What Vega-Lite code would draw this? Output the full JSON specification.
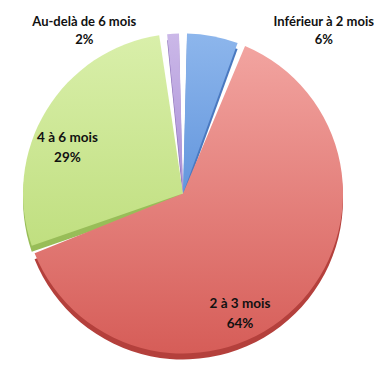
{
  "$schema": "https://vega.github.io/schema/vega-lite/v6.json",
  "width": 374,
  "height": 371,
  "autosize": {"type": "fit", "contains": "padding"},
  "padding": {"top": 32, "left": 0, "right": 14, "bottom": 3},
  "background": "white",
  "config": {"view": {"stroke": null}},
  "data": {
    "values": [
      {"cat": "Inférieur à 2 mois", "pct": 6, "ord": 1, "label": "Inférieur à 2 mois\n6%"},
      {"cat": "2 à 3 mois", "pct": 64, "ord": 2, "label": "2 à 3 mois\n64%"},
      {"cat": "4 à 6 mois", "pct": 29, "ord": 3, "label": "4 à 6 mois\n29%"},
      {"cat": "Au-delà de 6 mois", "pct": 2, "ord": 4, "label": "Au-delà de 6 mois\n2%"}
    ]
  },
  "encoding": {
    "theta": {"field": "pct", "type": "quantitative", "stack": true},
    "order": {"field": "ord", "type": "quantitative"}
  },
  "layer": [
    {
      "mark": {"type": "arc", "outerRadius": 160, "padAngle": 0.05, "yOffset": 6},
      "encoding": {
        "color": {
          "field": "cat", "type": "nominal", "legend": null,
          "scale": {
            "domain": ["Inférieur à 2 mois", "2 à 3 mois", "4 à 6 mois", "Au-delà de 6 mois"],
            "range": ["#4a79c0", "#b4403c", "#98bd58", "#8a6fb8"]
          }
        }
      }
    },
    {
      "mark": {"type": "arc", "outerRadius": 160, "padAngle": 0.05},
      "encoding": {
        "fill": {
          "condition": [
            {"test": "datum.ord == 1", "value": {"gradient": "linear", "x1": 0, "y1": 0, "x2": 0, "y2": 1, "stops": [{"offset": 0, "color": "#8db6ec"}, {"offset": 1, "color": "#6396dd"}]}},
            {"test": "datum.ord == 2", "value": {"gradient": "linear", "x1": 0, "y1": 0, "x2": 0, "y2": 1, "stops": [{"offset": 0, "color": "#f2a4a0"}, {"offset": 1, "color": "#d65d58"}]}},
            {"test": "datum.ord == 3", "value": {"gradient": "linear", "x1": 0, "y1": 0, "x2": 0, "y2": 1, "stops": [{"offset": 0, "color": "#d9efaa"}, {"offset": 1, "color": "#c0df80"}]}}
          ],
          "value": {"gradient": "linear", "x1": 0, "y1": 0, "x2": 0, "y2": 1, "stops": [{"offset": 0, "color": "#cbb8e8"}, {"offset": 1, "color": "#a98fd6"}]}
        }
      }
    },
    {
      "mark": {"type": "text", "radius": 124, "thetaOffset": 0.3, "lineBreak": "\n", "lineHeight": 20, "font": "Lato", "fontWeight": "bold", "fontSize": 13.5, "color": "#111111", "align": "center", "baseline": "middle"},
      "encoding": {"text": {"condition": {"test": "datum.ord == 2", "field": "label"}, "value": ""}}
    },
    {
      "mark": {"type": "text", "radius": 128, "thetaOffset": -0.1, "lineBreak": "\n", "lineHeight": 20, "font": "Lato", "fontWeight": "bold", "fontSize": 13.5, "color": "#111111", "align": "center", "baseline": "middle"},
      "encoding": {"text": {"condition": {"test": "datum.ord == 3", "field": "label"}, "value": ""}}
    },
    {
      "mark": {"type": "text", "radius": 198, "thetaOffset": -0.46, "lineBreak": "\n", "lineHeight": 18, "font": "Lato", "fontWeight": "bold", "fontSize": 13, "color": "#111111", "align": "center", "baseline": "middle"},
      "encoding": {"text": {"condition": {"test": "datum.ord == 4", "field": "label"}, "value": ""}}
    },
    {
      "mark": {"type": "text", "radius": 222, "thetaOffset": 0.5, "lineBreak": "\n", "lineHeight": 18, "font": "Lato", "fontWeight": "bold", "fontSize": 13, "color": "#111111", "align": "center", "baseline": "middle"},
      "encoding": {"text": {"condition": {"test": "datum.ord == 1", "field": "label"}, "value": ""}}
    }
  ]
}
